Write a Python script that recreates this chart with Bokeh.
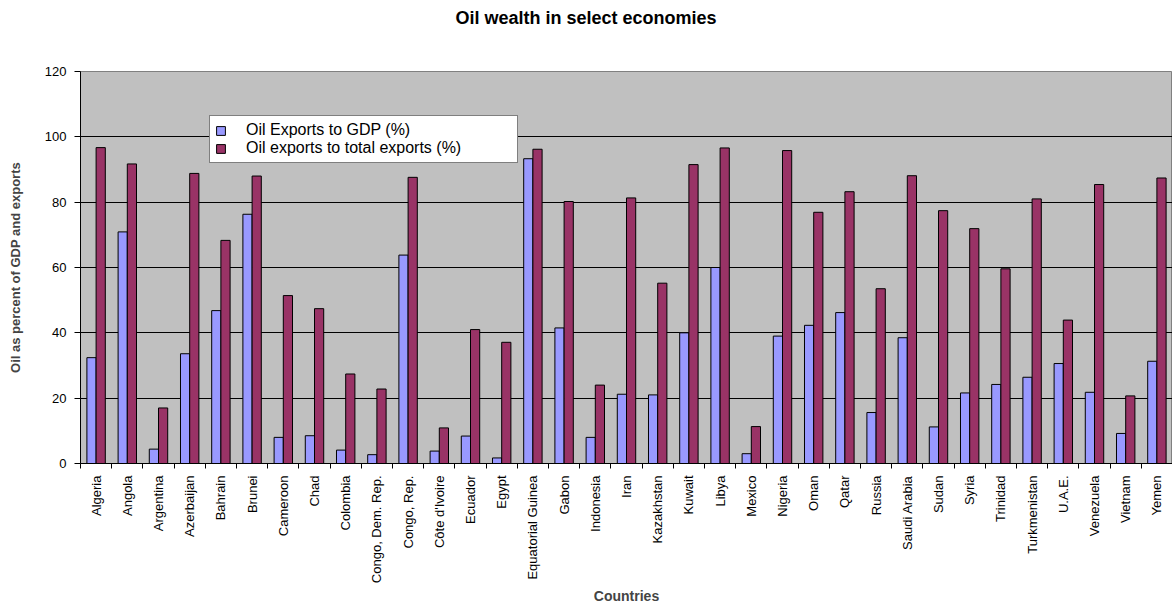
from bokeh.plotting import figure
from bokeh.models import ColumnDataSource, Range1d, FixedTicker, Legend, LegendItem
from bokeh.transform import dodge
from bokeh.embed import file_html
from bokeh.resources import INLINE

countries = ["Algeria", "Angola", "Argentina", "Azerbaijan", "Bahrain", "Brunei",
             "Cameroon", "Chad", "Colombia", "Congo, Dem. Rep.", "Congo, Rep.",
             "Côte d'Ivoire", "Ecuador", "Egypt", "Equatorial Guinea", "Gabon",
             "Indonesia", "Iran", "Kazakhstan", "Kuwait", "Libya", "Mexico",
             "Nigeria", "Oman", "Qatar", "Russia", "Saudi Arabia", "Sudan", "Syria",
             "Trinidad", "Turkmenistan", "U.A.E.", "Venezuela", "Vietnam", "Yemen"]
oil_exports_gdp = [32.4, 70.9, 4.4, 33.6, 46.8, 76.3, 8.0, 8.5, 4.1, 2.7, 63.8,
                   3.8, 8.4, 1.7, 93.3, 41.5, 8.0, 21.2, 21.0, 40.0, 60.0, 3.0,
                   39.0, 42.3, 46.2, 15.6, 38.5, 11.2, 21.6, 24.2, 26.4, 30.6,
                   21.8, 9.2, 31.3]
oil_exports_total = [96.7, 91.7, 17.0, 88.8, 68.3, 88.0, 51.4, 47.4, 27.4, 22.8,
                     87.6, 10.9, 41.0, 37.1, 96.2, 80.2, 24.0, 81.3, 55.2, 91.5,
                     96.6, 11.3, 95.8, 76.9, 83.2, 53.5, 88.1, 77.4, 71.9, 59.6,
                     81.0, 43.9, 85.4, 20.7, 87.4]
y_ticks = [0, 20, 40, 60, 80, 100, 120]
title_text = "Oil wealth in select economies"

n = len(countries)
centers = [i + 0.5 for i in range(n)]
src = ColumnDataSource(dict(x=centers, gdp=oil_exports_gdp, tot=oil_exports_total))

FONT = "Liberation Sans"

p = figure(width=1172, height=607, x_range=Range1d(0, n), y_range=Range1d(0, 120),
           output_backend="svg", toolbar_location=None,
           min_border_left=80, min_border_right=0, min_border_top=71, min_border_bottom=144)

p.background_fill_color = "#C0C0C0"
p.border_fill_color = "white"
p.outline_line_color = "#808080"
p.outline_line_width = 1

bw = 0.295
r1 = p.vbar(x=dodge("x", -bw / 2, range=p.x_range), top="gdp", width=bw, source=src,
            fill_color="#9999FF", line_color="black", line_width=1)
r2 = p.vbar(x=dodge("x", bw / 2, range=p.x_range), top="tot", width=bw, source=src,
            fill_color="#993366", line_color="black", line_width=1)

# title: placed near the top of the page (blank lines keep it away from the frame)
p.title.text = title_text + "\n\n"
p.title.text_font = FONT
p.title.text_font_size = "18px"
p.title.text_font_style = "bold"
p.title.text_color = "black"
p.title.align = "left"
p.title.offset = 375
p.title.vertical_align = "top"
p.title.standoff = 3

# x axis
xa = p.xaxis[0]
xa.ticker = FixedTicker(ticks=centers, minor_ticks=list(range(n + 1)))
xa.major_label_overrides = {c: name for c, name in zip(centers, countries)}
xa.major_label_orientation = 1.5707963267948966
xa.major_tick_line_color = None
xa.major_tick_out = 0
xa.major_tick_in = 0
xa.minor_tick_line_color = "black"
xa.minor_tick_out = 5
xa.minor_tick_in = 0
xa.major_label_standoff = 7
xa.major_label_text_font = FONT
xa.major_label_text_font_size = "13px"
xa.major_label_text_color = "black"
xa.axis_line_color = "black"
xa.axis_label = "Countries"
xa.axis_label_text_font = FONT
xa.axis_label_text_font_size = "14px"
xa.axis_label_text_font_style = "bold"
xa.axis_label_standoff = 2

# y axis
ya = p.yaxis[0]
ya.ticker = FixedTicker(ticks=y_ticks)
ya.major_tick_out = 6
ya.major_tick_in = 0
ya.major_tick_line_color = "black"
ya.minor_tick_line_color = None
ya.major_label_standoff = 8
ya.major_label_text_font = FONT
ya.major_label_text_font_size = "13px"
ya.major_label_text_color = "black"
ya.axis_line_color = "black"
ya.axis_label = "Oil as percent of GDP and exports"
ya.axis_label_text_font = FONT
ya.axis_label_text_font_size = "13px"
ya.axis_label_text_font_style = "bold"
ya.axis_label_standoff = 19

p.xgrid.grid_line_color = None
p.ygrid.ticker = FixedTicker(ticks=y_ticks[1:-1])
p.ygrid.grid_line_color = "black"
p.ygrid.grid_line_width = 1

legend = Legend(items=[LegendItem(label="Oil Exports to GDP (%)", renderers=[r1]),
                       LegendItem(label="Oil exports to total exports (%)", renderers=[r2])],
                location=(129, 300))
legend.label_text_font = FONT
legend.label_text_font_size = "16px"
legend.label_text_color = "black"
legend.glyph_width = 11
legend.glyph_height = 11
legend.label_standoff = 20
legend.label_width = 266
legend.label_height = 18
legend.padding = 5
legend.spacing = 0
legend.margin = 0
legend.border_line_color = "black"
legend.border_line_width = 1
legend.background_fill_color = "white"
legend.background_fill_alpha = 1
p.add_layout(legend, "center")

open("out.html", "w").write(file_html(p, INLINE))
